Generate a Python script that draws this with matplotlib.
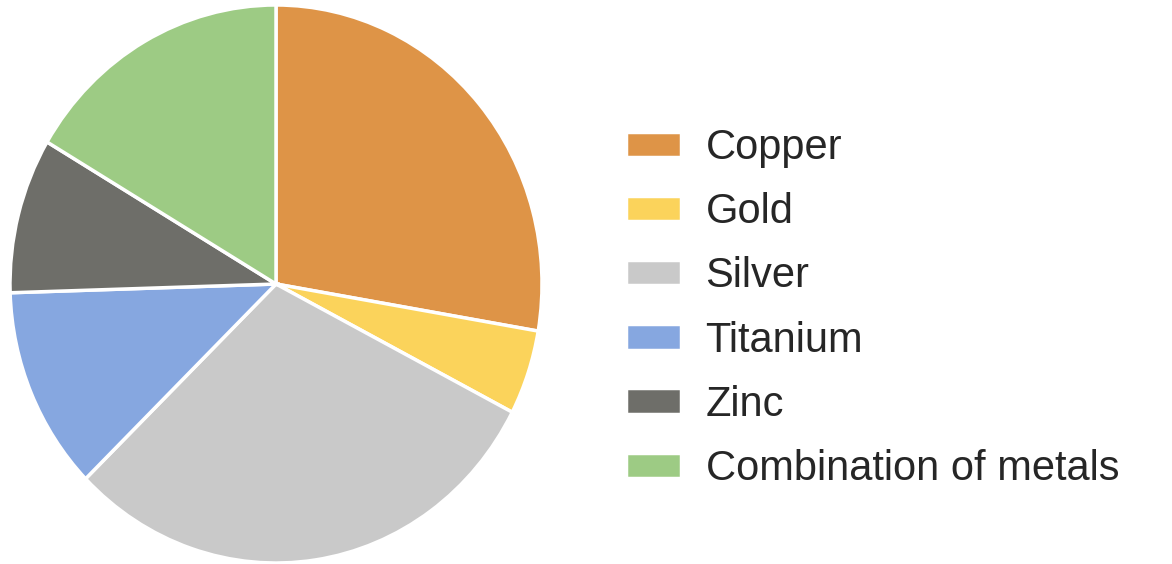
import matplotlib.pyplot as plt

plt.rcParams['font.family'] = ['Liberation Sans', 'DejaVu Sans']

metals = ['Copper', 'Gold', 'Silver', 'Titanium', 'Zinc', 'Combination of metals']
shares = [27.7, 4.9, 30.1, 11.8, 9.0, 16.5]
colors = ['#DE9447', '#FBD35B', '#C9C9C9', '#86A7E0', '#6E6E69', '#9DCB84']

fig = plt.figure(figsize=(11.72, 5.64), dpi=100)
ax = fig.add_axes([10 / 1172, 1 / 564, 532 / 1172, 558 / 564])

wedges, _ = ax.pie(shares, colors=colors, startangle=90, counterclock=False,
                   wedgeprops=dict(edgecolor='white', linewidth=2.5))
ax.set_aspect('auto')
ax.set_xlim(-1, 1)
ax.set_ylim(-1, 1)

fig.legend(wedges, metals, loc='center left', bbox_to_anchor=(588 / 1172, 0.453),
           frameon=False, fontsize=30, handlelength=1.32, handleheight=0.56,
           handletextpad=0.6, labelspacing=0.58, labelcolor='#262626')

fig.savefig('out.png', dpi=100)
